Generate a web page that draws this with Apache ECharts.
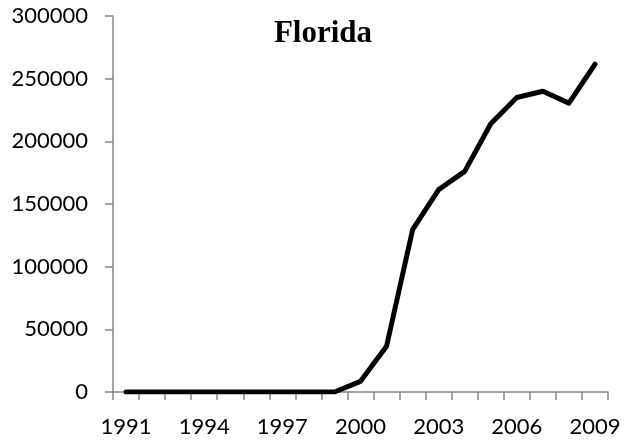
<!DOCTYPE html>
<html>
<head>
<meta charset="utf-8">
<script src="https://cdn.jsdelivr.net/npm/echarts@6/dist/echarts.min.js"></script>
<style>
  html, body { margin: 0; padding: 0; background: #fff; }
  #chart { width: 634px; height: 445px; }
</style>
</head>
<body>
<div id="chart"></div>
<script>
// data
const years = ['1991', '1992', '1993', '1994', '1995', '1996', '1997', '1998', '1999', '2000',
  '2001', '2002', '2003', '2004', '2005', '2006', '2007', '2008', '2009']
const values = [0, 0, 0, 0, 0, 0, 0, 0, 0, 8500, 36500, 129500, 161500, 176000, 214000, 235000, 240000, 230500, 261500]
const titleText = 'Florida'

const axisColor = '#868686'
const labelFont = 'Lato, "Open Sans", sans-serif'

const chart = echarts.init(document.getElementById('chart'))
chart.setOption({
  animation: false,
  title: {
    text: titleText,
    left: 318,
    top: 13,
    textAlign: 'center',
    textStyle: {
      fontFamily: '"Liberation Serif", serif',
      fontWeight: 'bold',
      fontSize: 31,
      color: '#000'
    }
  },
  grid: { left: 113, right: 26, top: 16, bottom: 53 },
  xAxis: {
    type: 'category',
    data: years,
    boundaryGap: true,
    axisLine: { lineStyle: { color: axisColor, width: 1.5 } },
    axisTick: { show: true, inside: false, length: 8, lineStyle: { color: axisColor, width: 1.5 }, interval: 0 },
    axisLabel: {
      interval: 2,
      color: '#000',
      fontSize: 22,
      fontFamily: labelFont,
      margin: 24
    }
  },
  yAxis: {
    type: 'value',
    min: 0,
    max: 300000,
    interval: 50000,
    splitLine: { show: false },
    axisLine: { show: true, lineStyle: { color: axisColor, width: 1.5 } },
    axisTick: { show: true, length: 8, lineStyle: { color: axisColor, width: 1.5 } },
    axisLabel: {
      color: '#000',
      fontSize: 22,
      fontFamily: labelFont,
      margin: 25,
      formatter: (v) => String(v)
    }
  },
  series: [{
    type: 'line',
    data: values,
    symbol: 'none',
    lineStyle: { color: '#000', width: 5, cap: 'round', join: 'round' }
  }]
})
</script>
</body>
</html>
